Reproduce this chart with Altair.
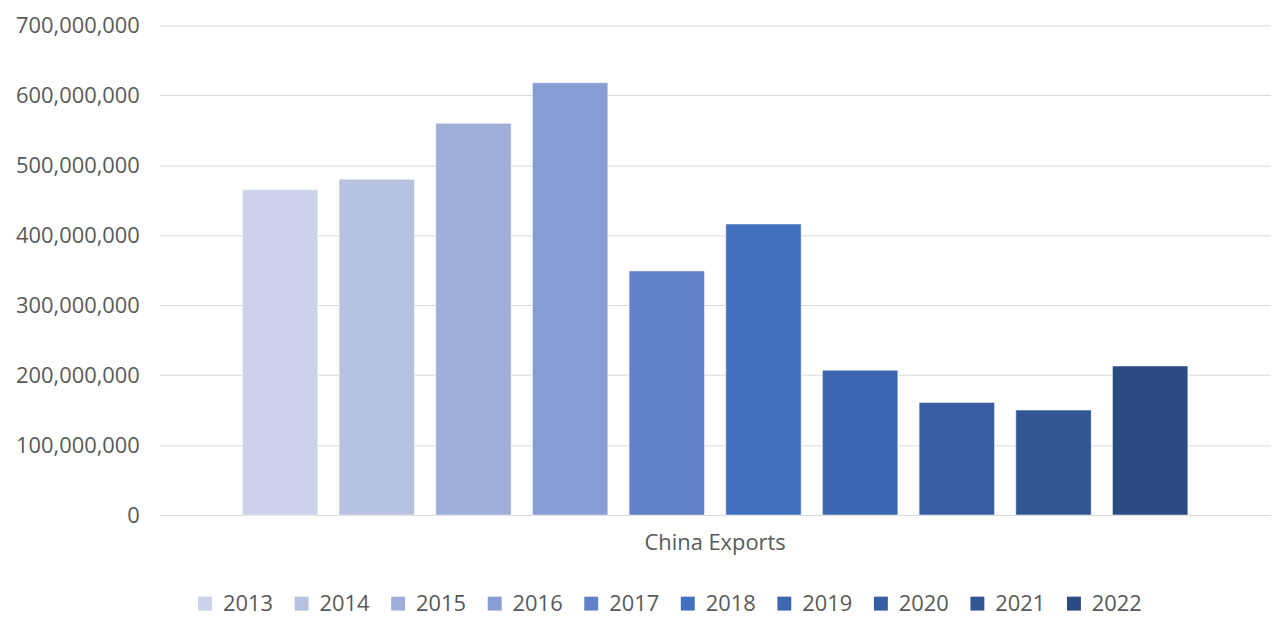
import altair as alt
import pandas as pd

years = ["2013", "2014", "2015", "2016", "2017", "2018", "2019", "2020", "2021", "2022"]
exports = [465e6, 480e6, 560e6, 618e6, 349e6, 416e6, 207e6, 161e6, 150e6, 213e6]
category = "China Exports"
colors = ["#CCD2E9", "#B7C2E1", "#A0AFDA", "#879DD4", "#6182C8",
          "#4170BF", "#3D68B1", "#375DA3", "#325694", "#2A4A82"]
y_ticks = [0, 100e6, 200e6, 300e6, 400e6, 500e6, 600e6, 700e6]

df = pd.DataFrame({"category": [category] * len(years), "year": years, "value": exports})

FONT = "Open Sans"
TXT = "#595959"

chart = alt.Chart(df).mark_bar(stroke="#ffffff", strokeOpacity=0.5, strokeWidth=1).encode(
    x=alt.X("category:N", title=None,
            scale=alt.Scale(paddingOuter=0.075, paddingInner=0),
            axis=alt.Axis(labelAngle=0, ticks=False, domain=False, grid=False,
                          labelPadding=18, labelFont=FONT, labelFontSize=22,
                          labelColor=TXT)),
    xOffset=alt.XOffset("year:N", scale=alt.Scale(paddingInner=0.22, paddingOuter=0.11)),
    y=alt.Y("value:Q", title=None,
            scale=alt.Scale(domain=[0, 700e6], nice=False),
            axis=alt.Axis(values=y_ticks, format=",.0f", ticks=False, domain=False,
                          labelPadding=20, labelFont=FONT, labelFontSize=22,
                          labelColor=TXT, gridColor="#D9D9D9", gridWidth=1)),
    color=alt.Color("year:N", title=None,
                    scale=alt.Scale(domain=years, range=colors),
                    legend=alt.Legend(orient="none", direction="horizontal",
                                      legendX=35, legendY=570, padding=0,
                                      symbolType="square", symbolSize=196,
                                      symbolStrokeWidth=0, labelOffset=7,
                                      columnPadding=17, labelFont=FONT,
                                      labelFontSize=22, labelColor=TXT)),
).properties(
    width=1117, height=492,
    padding={"left": 7, "top": 5, "right": 0, "bottom": 0},
).configure(background="#ffffff").configure_view(stroke=None, strokeWidth=0)

chart.save("out.html", embed_options={"renderer": "svg", "actions": False})
